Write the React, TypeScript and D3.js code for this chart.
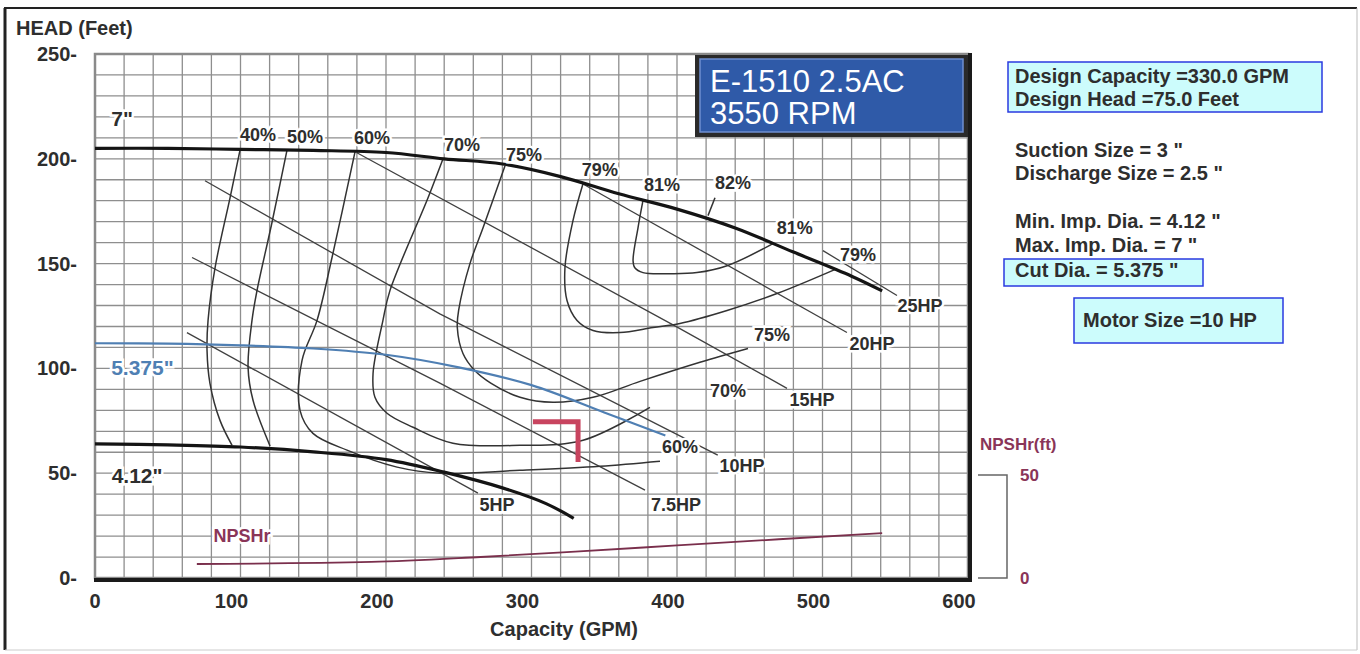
import React from "react";
import * as d3 from "d3";

// axis ticks
const capTicks = [0, 100, 200, 300, 400, 500, 600];
const headTicks = [0, 50, 100, 150, 200, 250];
const npshTicks = [0, 50];

// impeller head curves (GPM / feet)
const dia7Q = [0, 50, 100, 150, 200, 240, 280, 320, 360, 400, 440, 480, 520, 541];
const dia7H = [205, 205, 204.5, 204, 203, 200, 197.5, 191.5, 183.3, 176, 167, 155.5, 144, 137];
const dia5375Q = [0, 50, 100, 150, 200, 250, 300, 350, 392];
const dia5375H = [112, 111.8, 111, 109.5, 106.5, 100.5, 92, 79, 68];
const dia412Q = [0, 50, 100, 150, 200, 240, 280, 310, 329];
const dia412H = [64, 63.5, 62.5, 60.2, 56.5, 50.5, 43, 35.5, 28.5];
const diaNames = ['7"', '5.375"', '4.12"'];
const diaLabelQ = [18.6, 32.6, 28.9];
const diaLabelH = [215.7, 96.7, 45.2];

// NPSHr (GPM / ft, right scale)
const npshQ = [70, 190, 265, 330, 400, 470, 541];
const npshFt = [6.8, 7.8, 10.2, 12.8, 15.8, 18.8, 21.8];

// iso-efficiency curves
const eff40 = [[99.7, 204.3], [92.8, 181.4], [82.5, 148], [77.7, 122.9], [77, 108.6], [79, 92.9], [85.9, 75.2], [94.2, 63.3]];
const eff50 = [[132, 204.3], [121.6, 169.5], [111.3, 137], [107.9, 122.9], [105.2, 100.5], [108.6, 84.8], [120.3, 63]];
const eff60 = [[178.7, 203.3], [162.9, 152.9], [152.6, 122.9], [142.3, 103.8], [140.9, 80], [149.8, 69], [173.2, 61], [207.6, 52.9], [237.1, 50], [292, 51.4], [347, 53.3], [388.3, 55.7]];
const eff70 = [[239.2, 200], [228.9, 181.4], [202.7, 137.1], [197.9, 122.9], [191.1, 97.6], [192.4, 86.2], [200.7, 78.6], [218.6, 71.9], [246, 64.3], [292, 63.3], [335.4, 65.7], [381.4, 81.4]];
const eff75 = [[281.8, 196.7], [266.7, 167.1], [257.7, 150], [250, 128], [249, 119.5], [252.9, 107.1], [261, 99], [272, 93], [292.1, 86.2], [314.8, 83.8], [342.3, 86.2], [374.6, 93.8], [415.8, 102.9], [448.8, 109.5]];
const eff79 = [[335.4, 188.1], [328.5, 170.5], [323, 148.1], [324.4, 132.4], [331.3, 122.9], [342.3, 118.1], [360.8, 117.1], [383.5, 119.5], [402, 121.4], [434.4, 127.6], [468.7, 135.7], [510, 147.6]];
const eff81 = [[376.6, 180], [373.2, 167.1], [369.8, 151.4], [371, 148], [376.6, 145.7], [395.2, 145.2], [413.7, 145.7], [434.4, 149], [466, 159.5]];
const eff82Leader = [[421.3, 172.9], [426.1, 181.4]];
const effLabels = ["40%", "50%", "60%", "70%", "75%", "79%", "81%", "82%", "81%", "79%", "75%", "70%", "60%"];
const effLabelQ = [112, 144.3, 190.4, 252.2, 294.8, 347, 389.7, 438.5, 481, 524.4, 465.3, 435, 402];
const effLabelH = [208.6, 207.6, 207, 203.8, 199, 191.9, 184.8, 185.7, 164.3, 151.4, 113.3, 86.2, 59.5];

// horsepower lines
const hp5 = [[63.2, 117.1], [263.2, 40.5]];
const hp75 = [[66.7, 152.9], [237, 93], [378, 41.9]];
const hp10 = [[75.6, 189.5], [237, 126], [428, 58.6]];
const hp15 = [[180, 202.9], [402, 119], [475.6, 90.5]];
const hp20 = [[335.4, 188], [516.8, 117.1]];
const hp25 = [[500.3, 156.2], [551.2, 134.8]];
const hpNames = ["5HP", "7.5HP", "10HP", "15HP", "20HP", "25HP"];
const hpLabelQ = [276.3, 399.3, 444.7, 492.8, 534, 567];
const hpLabelH = [31.9, 31.9, 50.5, 81.9, 108.6, 126.7];

// design point marker
const designMarker = [[301, 74.6], [332, 74.6], [332, 55.3]];

const infoLines = [
  "Design Capacity =330.0 GPM",
  "Design Head =75.0 Feet",
  'Suction Size = 3 "',
  'Discharge Size = 2.5 "',
  'Min. Imp. Dia. = 4.12 "',
  'Max. Imp. Dia. = 7 "',
  'Cut Dia. = 5.375 "',
];
const infoBaselines = [83, 106, 157, 180, 228, 252, 277];

const W = 1360;
const H = 654;
const FONT = "'Liberation Sans', Arial, sans-serif";
const TXT = "#2e2e2e";

const App = () => {
  const x = d3.scaleLinear().domain([0, 600]).range([95, 968]);
  const y = d3.scaleLinear().domain([0, 250]).range([578, 54]);
  const yN = d3.scaleLinear().domain([0, 50]).range([578, 475]);

  const smooth = d3
    .line<number[]>()
    .x((d) => x(d[0]))
    .y((d) => y(d[1]))
    .curve(d3.curveCatmullRom.alpha(0.5));
  const straight = d3
    .line<number[]>()
    .x((d) => x(d[0]))
    .y((d) => y(d[1]));
  const npshLine = d3
    .line<number>()
    .x((q) => x(q))
    .y((_, i) => yN(npshFt[i]))
    .curve(d3.curveMonotoneX);

  const zip = (qs: number[], hs: number[]) => qs.map((q, i) => [q, hs[i]]);

  const vGrid = d3.range(20, 600, 20);
  const hGrid = d3.range(10, 250, 10);

  const halo = { stroke: "#fff", strokeWidth: 5, paintOrder: "stroke" as const };

  return (
    <svg
      width={W}
      height={H}
      style={{ position: "absolute", left: 0, top: 0, background: "#fff" }}
      fontFamily={FONT}
    >
      {/* outer frame */}
      <line x1={5} y1={8} x2={5} y2={650} stroke="#222" strokeWidth={3} />
      <line x1={4} y1={8} x2={1357} y2={8} stroke="#222" strokeWidth={2} />
      <line x1={1357} y1={8} x2={1357} y2={650} stroke="#bbb" strokeWidth={1} />
      <line x1={5} y1={650} x2={1357} y2={650} stroke="#ccc" strokeWidth={1} />

      {/* grid */}
      <g stroke="#8e8e8e" strokeWidth={1.3}>
        {vGrid.map((v) => (
          <line key={"v" + v} x1={x(v)} x2={x(v)} y1={y(250)} y2={y(0)} />
        ))}
        {hGrid.map((h) => (
          <line key={"h" + h} x1={x(0)} x2={x(600)} y1={y(h)} y2={y(h)} />
        ))}
      </g>
      <rect
        x={x(0)}
        y={y(250)}
        width={x(600) - x(0)}
        height={y(0) - y(250)}
        fill="none"
        stroke="#8a8a8a"
        strokeWidth={2.5}
      />
      <line x1={x(600) + 2} y1={y(250) - 1} x2={x(600) + 2} y2={y(0) + 4} stroke="#1a1a1a" strokeWidth={4} />
      <line x1={x(0) - 1} y1={y(0) + 2} x2={x(600) + 4} y2={y(0) + 2} stroke="#1a1a1a" strokeWidth={4} />

      {/* axis labels */}
      <text x={16} y={35} fontSize={20} fontWeight="bold" fill={TXT}>
        HEAD (Feet)
      </text>
      {headTicks.map((t) => (
        <text key={"yt" + t} x={77} y={y(t) + 7} fontSize={20} fontWeight="bold" fill={TXT} textAnchor="end">
          {t}-
        </text>
      ))}
      {capTicks.map((t) => (
        <text
          key={"xt" + t}
          x={x(t) - (t === 0 ? 0 : 9)}
          y={608}
          fontSize={20}
          fontWeight="bold"
          fill={TXT}
          textAnchor="middle"
        >
          {t}
        </text>
      ))}
      <text x={564} y={636} fontSize={20} fontWeight="bold" fill={TXT} textAnchor="middle">
        Capacity (GPM)
      </text>

      {/* horsepower lines */}
      <g fill="none" stroke="#404040" strokeWidth={1.3}>
        {[hp5, hp75, hp10, hp15, hp20, hp25].map((pts, i) => (
          <path key={"hp" + i} d={straight(pts) || ""} />
        ))}
      </g>

      {/* efficiency curves */}
      <g fill="none" stroke="#333" strokeWidth={1.5}>
        {[eff40, eff50, eff60, eff70, eff75, eff79, eff81].map((pts, i) => (
          <path key={"eff" + i} d={smooth(pts) || ""} />
        ))}
        <path d={straight(eff82Leader) || ""} />
      </g>

      {/* impeller curves */}
      <path d={smooth(zip(dia5375Q, dia5375H)) || ""} fill="none" stroke="#4f7fb3" strokeWidth={2.2} />
      <path d={smooth(zip(dia7Q, dia7H)) || ""} fill="none" stroke="#141414" strokeWidth={3.2} />
      <path d={smooth(zip(dia412Q, dia412H)) || ""} fill="none" stroke="#141414" strokeWidth={3.2} />

      {/* NPSHr */}
      <path d={npshLine(npshQ) || ""} fill="none" stroke="#7a2f4c" strokeWidth={1.8} />

      {/* design point */}
      <path d={straight(designMarker) || ""} fill="none" stroke="#c8445f" strokeWidth={5} strokeLinejoin="miter" />

      {/* curve labels */}
      <g fontSize={18} fontWeight="bold" fill={TXT} textAnchor="middle" {...halo}>
        {effLabels.map((s, i) => (
          <text key={"el" + i} x={x(effLabelQ[i])} y={y(effLabelH[i])}>
            {s}
          </text>
        ))}
        {hpNames.map((s, i) => (
          <text key={"hl" + i} x={x(hpLabelQ[i])} y={y(hpLabelH[i])}>
            {s}
          </text>
        ))}
      </g>
      <g fontSize={21} fontWeight="bold" textAnchor="middle" {...halo}>
        {diaNames.map((s, i) => (
          <text key={"dl" + i} x={x(diaLabelQ[i])} y={y(diaLabelH[i])} fill={i === 1 ? "#4f7fb3" : TXT}>
            {s}
          </text>
        ))}
      </g>
      <text x={x(101)} y={y(17.1)} fontSize={18} fontWeight="bold" fill="#8a3558" textAnchor="middle" {...halo}>
        NPSHr
      </text>

      {/* NPSHr axis */}
      <text x={980} y={450} fontSize={17} fontWeight="bold" fill="#8a3558">
        NPSHr(ft)
      </text>
      <path
        d={`M978,${yN(50)}H1007V${yN(0)}H978`}
        fill="none"
        stroke="#666"
        strokeWidth={1.5}
      />
      {npshTicks.map((t) => (
        <text key={"nt" + t} x={1020} y={yN(t) + 6} fontSize={17} fontWeight="bold" fill="#8a3558">
          {t}
        </text>
      ))}

      {/* title box */}
      <rect x={695} y={55} width={273} height={82} fill="#2a2a2a" />
      <rect x={700} y={59} width={263} height={73} fill="#2f5aa8" stroke="#6f8fd0" strokeWidth={1.5} />
      <text x={710} y={92} fontSize={31} fill="#fff">
        E-1510 2.5AC
      </text>
      <text x={710} y={124} fontSize={31} fill="#fff">
        3550 RPM
      </text>

      {/* info panel */}
      <rect x={1008} y={62} width={314} height={50} fill="#ccfcfc" stroke="#2a3ae0" strokeWidth={1.5} />
      <rect x={1004} y={259} width={199} height={27} fill="#ccfcfc" stroke="#2a3ae0" strokeWidth={1.5} />
      <rect x={1074} y={298} width={209} height={45} fill="#ccfcfc" stroke="#2a3ae0" strokeWidth={1.5} />
      {infoLines.map((s, i) => (
        <text key={"info" + i} x={1015} y={infoBaselines[i]} fontSize={20} fontWeight="bold" fill={TXT}>
          {s}
        </text>
      ))}
      <text x={1083} y={327} fontSize={20} fontWeight="bold" fill={TXT}>
        Motor Size =10 HP
      </text>
    </svg>
  );
};

export default App;
